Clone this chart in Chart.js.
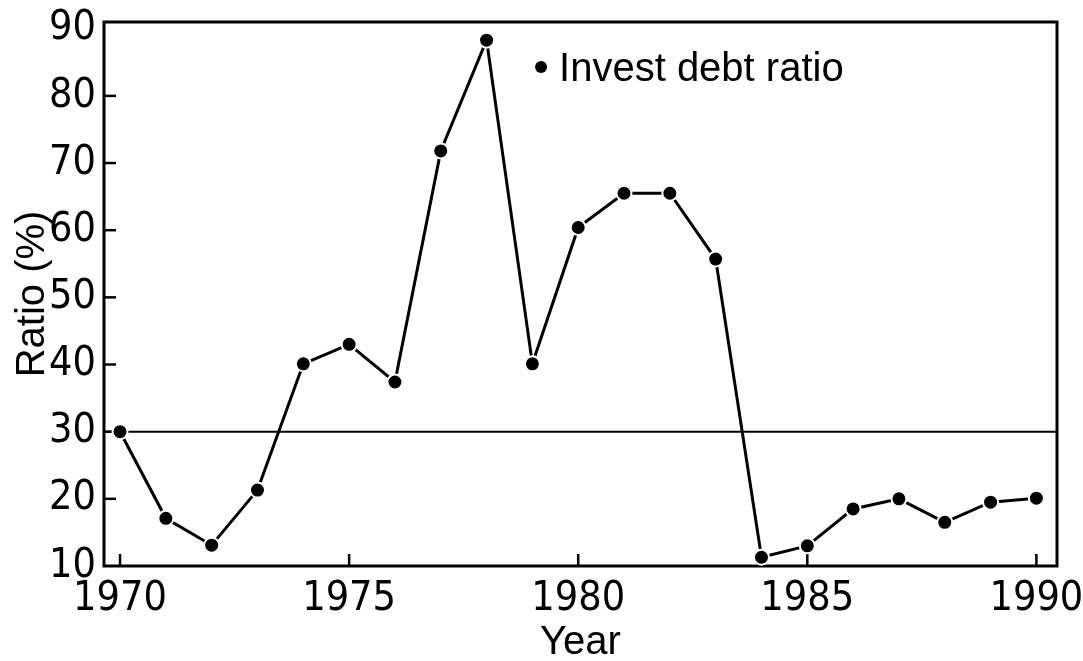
<!DOCTYPE html>
<html>
<head>
<meta charset="utf-8">
<script src="https://cdn.jsdelivr.net/npm/chart.js@4"></script>
<style>
  html, body { margin: 0; padding: 0; background: #fff; }
  #wrap { width: 1083px; height: 661px; }
</style>
</head>
<body>
<div id="wrap"><canvas id="myChart"></canvas></div>
<script>
// data
const years = [1970, 1971, 1972, 1973, 1974, 1975, 1976, 1977, 1978, 1979, 1980,
               1981, 1982, 1983, 1984, 1985, 1986, 1987, 1988, 1989, 1990];
const investDebtRatio = [30.0, 17.1, 13.1, 21.3, 40.1, 43.0, 37.4, 71.8, 88.3, 40.1, 60.4,
                         65.5, 65.5, 55.7, 11.3, 13.0, 18.5, 20.0, 16.5, 19.5, 20.1];
const xTicks = [1970, 1975, 1980, 1985, 1990];
const yTicks = [10, 20, 30, 40, 50, 60, 70, 80, 90];
const refLine = 30;
const seriesLabel = 'Invest debt ratio';

const points = years.map((yr, i) => ({ x: yr, y: investDebtRatio[i] }));

// box, inward ticks, 30% line and the legend
const frame = {
  id: 'frame',
  beforeDatasetsDraw(chart) {
    const { ctx, chartArea: a, scales: { x, y } } = chart;
    ctx.save();
    ctx.strokeStyle = '#000';
    ctx.lineWidth = 3;
    ctx.strokeRect(a.left, a.top, a.right - a.left, a.bottom - a.top);

    ctx.lineWidth = 2;
    const ry = y.getPixelForValue(refLine);
    ctx.beginPath();
    ctx.moveTo(a.left, ry);
    ctx.lineTo(a.right, ry);
    ctx.stroke();

    ctx.lineWidth = 2.5;
    yTicks.forEach(v => {
      if (v <= y.min || v >= 90) return;
      const py = y.getPixelForValue(v);
      ctx.beginPath();
      ctx.moveTo(a.left, py);
      ctx.lineTo(a.left + 12, py);
      ctx.stroke();
    });
    xTicks.forEach(v => {
      const px = x.getPixelForValue(v);
      ctx.beginPath();
      ctx.moveTo(px, a.bottom);
      ctx.lineTo(px, a.bottom - 12);
      ctx.stroke();
    });
    ctx.restore();
  },
  afterDatasetsDraw(chart) {
    const { ctx, chartArea: a } = chart;
    const lx = a.left + (a.right - a.left) * 0.4586;
    const ly = a.top + 45;
    ctx.save();
    ctx.fillStyle = '#000';
    ctx.beginPath();
    ctx.arc(lx, ly, 6, 0, Math.PI * 2);
    ctx.fill();
    ctx.font = '40px "Liberation Sans", Arial, sans-serif';
    ctx.textBaseline = 'alphabetic';
    ctx.textAlign = 'left';
    ctx.fillText(seriesLabel, lx + 18, ly + 14);
    ctx.restore();
  }
};

const tickFont = { family: '"Liberation Sans Narrow", "DejaVu Sans Condensed", sans-serif', size: 41, lineHeight: 1 };
const titleFont = { family: '"Liberation Sans", Arial, sans-serif', size: 40, lineHeight: 1 };

const config = {
  type: 'line',
  data: {
    datasets: [{
      label: seriesLabel,
      data: points,
      borderColor: '#000',
      borderWidth: 3,
      backgroundColor: '#000',
      pointRadius: 7.5,
      pointBackgroundColor: '#000',
      pointBorderColor: '#fff',
      pointBorderWidth: 2,
      tension: 0,
      fill: false
    }]
  },
  options: {
    responsive: true,
    maintainAspectRatio: false,
    animation: false,
    layout: { padding: { top: 22, right: 26, left: 0, bottom: 0 } },
    plugins: {
      legend: { display: false },
      tooltip: { enabled: false }
    },
    scales: {
      x: {
        type: 'linear',
        min: 1969.65,
        max: 1990.45,
        afterBuildTicks: s => { s.ticks = xTicks.map(v => ({ value: v })); },
        afterFit: s => { s.height = 95; s.paddingLeft = 0; s.paddingRight = 0; },
        grid: { display: false, drawTicks: false },
        border: { display: false },
        ticks: {
          color: '#000',
          font: tickFont,
          padding: 13,
          maxRotation: 0,
          callback: v => String(v)
        },
        title: {
          display: true,
          text: 'Year',
          color: '#000',
          font: titleFont,
          padding: { top: 0, bottom: -2 }
        }
      },
      y: {
        min: 10,
        max: 91,
        afterBuildTicks: s => { s.ticks = yTicks.map(v => ({ value: v })); },
        afterFit: s => { s.width = 104; s.paddingTop = 0; s.paddingBottom = 0; },
        grid: { display: false, drawTicks: false },
        border: { display: false },
        ticks: {
          color: '#000',
          font: tickFont,
          padding: 8,
          callback: v => String(v)
        },
        title: {
          display: true,
          text: 'Ratio (%)',
          color: '#000',
          font: titleFont,
          padding: { top: 13, bottom: 0 }
        }
      }
    }
  },
  plugins: [frame]
};

var myChart = new Chart(document.getElementById('myChart'), config);
</script>
</body>
</html>
